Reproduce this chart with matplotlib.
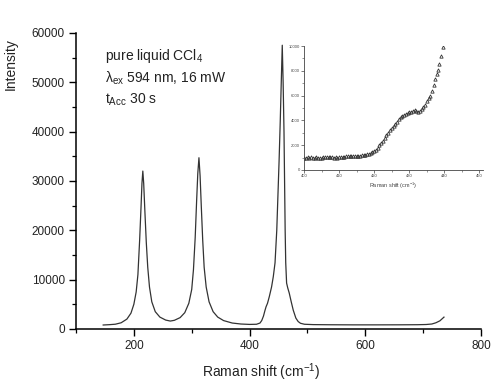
import matplotlib

matplotlib.use("Agg")
import matplotlib.pyplot as plt  # noqa: E402
from matplotlib.ticker import MultipleLocator  # noqa: E402

plt.rcParams["font.family"] = ["Liberation Sans", "DejaVu Sans"]
plt.rcParams["mathtext.default"] = "regular"

# main spectrum
shift = [
    147, 158, 168, 178, 188, 195, 200, 204, 207, 210, 212.5, 214, 215.5,
    217, 219, 221.5, 224, 227, 231, 237, 245, 255, 263, 270, 280, 288, 295,
    300, 303, 306, 308.5, 310.5, 312.5, 314.5, 316.5, 319, 321.5, 325, 330,
    337, 345, 355, 370, 385, 400, 412, 418, 421, 424, 426.5, 428.5, 431,
    434, 438, 441, 444, 447, 449, 451, 453, 455, 456.5, 458, 459.5, 460.5,
    461.5, 462.5, 464, 466, 468.5, 472, 475.5, 480, 484, 488, 495, 510, 540,
    580, 620, 660, 690, 705, 715, 722, 729, 736,
]
intensity = [
    800, 870, 960, 1250, 2000, 3200, 5000, 7500, 11000, 18000, 25000, 29500,
    32000, 29500, 24000, 17500, 12500, 8500, 5500, 3500, 2400, 1800, 1600,
    1750, 2300, 3300, 5200, 8000, 12000, 18500, 26000, 31500, 34700, 31000,
    25000, 18000, 12500, 8500, 5500, 3500, 2400, 1700, 1200, 1000, 920, 950,
    1200, 1700, 2600, 3700, 4500, 5200, 6500, 8500, 10600, 13400, 20000,
    27000, 34000, 42000, 51000, 57500, 50000, 40000, 30000, 20000, 13400,
    9300, 8300, 7300, 5500, 3800, 2200, 1500, 1150, 950, 880, 850, 830, 830,
    840, 860, 900, 1000, 1250, 1650, 2400,
]

# zoomed region in the inset
inset_shift = [
    400.0, 400.5, 401.0, 401.5, 402.0, 402.5, 403.0, 403.5, 404.0, 404.5,
    405.0, 405.5, 406.0, 406.5, 407.0, 407.5, 408.0, 408.5, 409.0, 409.5,
    410.0, 410.5, 411.0, 411.5, 412.0, 412.5, 413.0, 413.5, 414.0, 414.5,
    415.0, 415.5, 416.0, 416.5, 417.0, 417.5, 418.0, 418.5, 419.0, 419.5,
    420.0, 420.5, 421.0, 421.5, 422.0, 422.5, 423.0, 423.5, 424.0, 424.5,
    425.0, 425.5, 426.0, 426.5, 427.0, 427.5, 428.0, 428.5, 429.0, 429.5,
    430.0, 430.5, 431.0, 431.5, 432.0, 432.5, 433.0, 433.5, 434.0, 434.5,
    435.0, 435.5, 436.0, 436.5, 437.0, 437.4, 437.8, 438.1, 438.6, 438.9,
    439.7,
]
inset_intensity = [
    1000, 980, 1020, 990, 1010, 970, 1000, 1030, 990, 1000,
    960, 1010, 1040, 1020, 1050, 1010, 1030, 1000, 1020, 990,
    1010, 1060, 1080, 1070, 1100, 1090, 1110, 1100, 1120, 1110,
    1130, 1140, 1160, 1180, 1210, 1240, 1260, 1300, 1340, 1420,
    1520, 1640, 1800, 1980, 2150, 2350, 2600, 2800, 3000, 3200,
    3380, 3550, 3720, 3900, 4080, 4250, 4380, 4460, 4530, 4600,
    4650, 4700, 4760, 4810, 4780, 4680, 4750, 4950, 5100, 5280,
    5550, 5800, 6000, 6370, 6830, 7320, 7720, 8070, 8540, 9160,
    9890,
]

fig = plt.figure(figsize=(5.0, 3.87), dpi=100)
ax = fig.add_axes([0.152, 0.150, 0.810, 0.765])
ax.plot(shift, intensity, color="#333333", linewidth=0.9)

ax.set_xlim(100, 800)
ax.set_ylim(0, 60000)
ax.set_xticks([200, 400, 600, 800])
ax.xaxis.set_minor_locator(MultipleLocator(100))
ax.yaxis.set_major_locator(MultipleLocator(10000))
ax.yaxis.set_minor_locator(MultipleLocator(5000))
for side in ("top", "right"):
    ax.spines[side].set_visible(False)
for side in ("left", "bottom"):
    ax.spines[side].set_linewidth(1.1)
ax.tick_params(which="major", direction="out", length=5, width=1.0,
               labelsize=8.5, colors="black", labelcolor="#222222", pad=3)
ax.tick_params(which="minor", direction="out", length=3, width=0.9)

ax.set_xlabel("Raman shift (cm$^{-1}$)", fontsize=10, color="#222222")
ax.xaxis.set_label_coords(0.457, -0.108)
ax.set_ylabel("Intensity", fontsize=10, color="#222222")
ax.yaxis.set_label_coords(-0.143, 0.895)

fig.text(0.21, 0.855, "pure liquid CCl$_4$", fontsize=10, va="center",
         color="#222222")
fig.text(0.21, 0.798, "λ$_{ex}$ 594 nm, 16 mW", fontsize=10, va="center",
         color="#222222")
fig.text(0.21, 0.742, "t$_{Acc}$ 30 s", fontsize=10, va="center",
         color="#222222")

ins = fig.add_axes([0.608, 0.561, 0.358, 0.320])
ins.plot(inset_shift, inset_intensity, linestyle="none", marker="^",
         markersize=2.4, markerfacecolor="none", markeredgecolor="#333333",
         markeredgewidth=0.6)
ins.set_xlim(400, 451)
ins.set_ylim(0, 10000)
ins.xaxis.set_major_locator(MultipleLocator(10))
ins.xaxis.set_minor_locator(MultipleLocator(5))
ins.yaxis.set_major_locator(MultipleLocator(2000))
ins.yaxis.set_minor_locator(MultipleLocator(1000))
for side in ("top", "right"):
    ins.spines[side].set_visible(False)
for side in ("left", "bottom"):
    ins.spines[side].set_linewidth(0.6)
    ins.spines[side].set_color("#444444")
ins.tick_params(which="major", direction="out", length=2, width=0.5,
                labelsize=3, colors="#444444", pad=1)
ins.tick_params(which="minor", direction="out", length=1.2, width=0.4,
                colors="#444444")
ins.set_xlabel("Raman shift (cm$^{-1}$)", fontsize=4, color="#444444",
               labelpad=2)

fig.savefig("out.png", dpi=100)
